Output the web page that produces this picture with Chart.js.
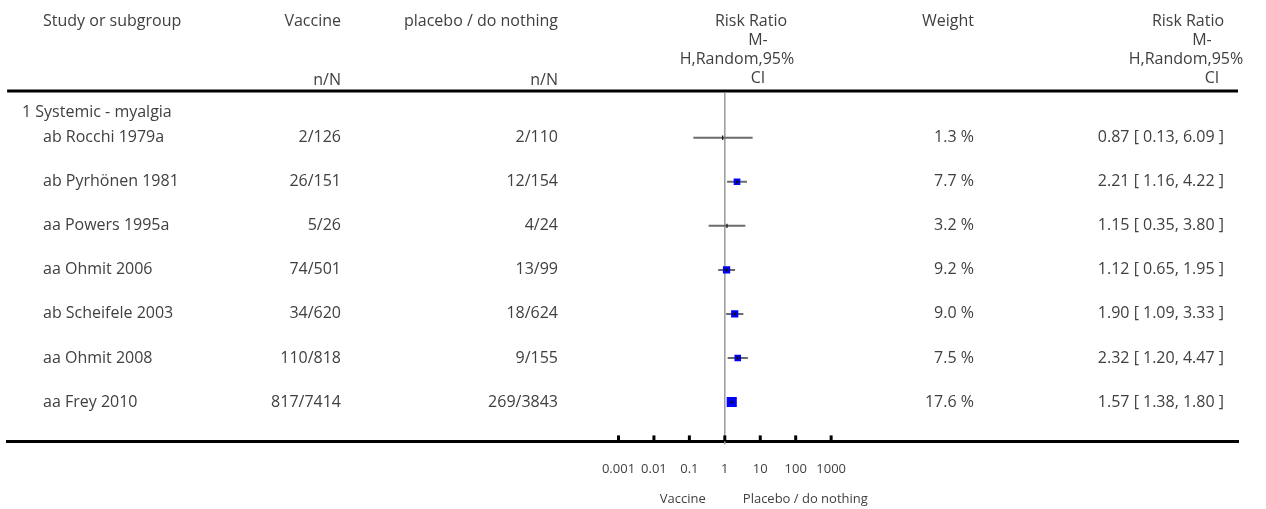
<!DOCTYPE html>
<html>
<head>
<meta charset="utf-8">
<script src="https://cdn.jsdelivr.net/npm/chart.js@4/dist/chart.umd.min.js"></script>
<style>
  body { margin: 0; background: #fff; }
  #wrap { width: 1266px; height: 509px; position: relative; }
</style>
</head>
<body>
<div id="wrap"><canvas id="forest"></canvas></div>
<script>
// data
var subgroup = "1 Systemic - myalgia";
var studies = ["ab Rocchi 1979a", "ab Pyrhönen 1981", "aa Powers 1995a", "aa Ohmit 2006",
  "ab Scheifele 2003", "aa Ohmit 2008", "aa Frey 2010"];
var vaccineN = ["2/126", "26/151", "5/26", "74/501", "34/620", "110/818", "817/7414"];
var placeboN = ["2/110", "12/154", "4/24", "13/99", "18/624", "9/155", "269/3843"];
var weights = [1.3, 7.7, 3.2, 9.2, 9.0, 7.5, 17.6];
var riskRatio = [0.87, 2.21, 1.15, 1.12, 1.90, 2.32, 1.57];
var lowerCI = [0.13, 1.16, 0.35, 0.65, 1.09, 1.20, 1.38];
var upperCI = [6.09, 4.22, 3.80, 1.95, 3.33, 4.47, 1.80];
var tickValues = [0.001, 0.01, 0.1, 1, 10, 100, 1000];

var FONT = "'Open Sans', sans-serif";
var TEXT = "#404040";

function boxRadius(w) {
  return w < 5 ? 0 : 1.7 * Math.sqrt(w);
}

// CI whiskers, one little line per study
var datasets = studies.map(function (s, i) {
  return {
    type: "line",
    data: [{ x: lowerCI[i], y: i }, { x: upperCI[i], y: i }],
    borderColor: "#6b6b6b",
    borderWidth: 2,
    pointRadius: 0,
    order: 3
  };
});

// weighted boxes
datasets.push({
  type: "scatter",
  data: riskRatio.map(function (v, i) { return { x: v, y: i }; }),
  pointStyle: "rect",
  pointRadius: function (c) { return boxRadius(weights[c.dataIndex]); },
  backgroundColor: "#0000ff",
  borderWidth: 0,
  order: 2
});

// point estimate marks
datasets.push({
  type: "scatter",
  data: riskRatio.map(function (v, i) { return { x: v, y: i }; }),
  pointStyle: function (c) { return weights[c.dataIndex] < 5 ? "line" : "cross"; },
  rotation: 90,
  pointRadius: function (c) { return weights[c.dataIndex] < 5 ? 2.2 : 1.8; },
  borderColor: "#111",
  borderWidth: 1.2,
  order: 1
});

function txt(ctx, s, x, y, align, size) {
  ctx.font = (size || 16) + "px " + FONT;
  ctx.textAlign = align || "left";
  ctx.textBaseline = "middle";
  ctx.fillStyle = TEXT;
  ctx.fillText(s, x, y);
}

var forestTable = {
  id: "forestTable",
  beforeDatasetsDraw: function (chart) {
    var ctx = chart.ctx, xs = chart.scales.x, area = chart.chartArea;
    var x1 = xs.getPixelForValue(1);
    ctx.save();
    ctx.strokeStyle = "#999";
    ctx.lineWidth = 1.5;
    ctx.beginPath();
    ctx.moveTo(x1, area.top + 2);
    ctx.lineTo(x1, area.bottom + 3);
    ctx.stroke();
    ctx.restore();
  },
  afterDraw: function (chart) {
    var ctx = chart.ctx, xs = chart.scales.x, ys = chart.scales.y, area = chart.chartArea;
    ctx.save();

    // header rule
    ctx.strokeStyle = "#000";
    ctx.lineWidth = 3;
    ctx.beginPath();
    ctx.moveTo(area.left, area.top);
    ctx.lineTo(area.right, area.top);
    ctx.stroke();

    // tick marks pointing up from the axis
    tickValues.forEach(function (v) {
      var px = xs.getPixelForValue(v);
      ctx.beginPath();
      ctx.moveTo(px, area.bottom - 6);
      ctx.lineTo(px, area.bottom);
      ctx.stroke();
    });

    // header
    txt(ctx, "Study or subgroup", 43, 21, "left");
    txt(ctx, "Vaccine", 341, 21, "right");
    txt(ctx, "n/N", 341, 80, "right");
    txt(ctx, "placebo / do nothing", 558, 21, "right");
    txt(ctx, "n/N", 558, 80, "right");
    txt(ctx, "Weight", 974, 21, "right");
    var rrHead = ["Risk Ratio", "M-", "H,Random,95%", "CI"];
    var headY = [21, 40, 59, 78];
    var midX = [751, 758, 737, 758];
    var rightX = [1188, 1202, 1186, 1212];
    rrHead.forEach(function (s, k) {
      txt(ctx, s, midX[k], headY[k], "center");
      txt(ctx, s, rightX[k], headY[k], "center");
    });

    // subgroup + rows
    txt(ctx, subgroup, 22, ys.getPixelForValue(-0.58), "left");
    studies.forEach(function (s, i) {
      var y = ys.getPixelForValue(i);
      txt(ctx, s, 43, y, "left");
      txt(ctx, vaccineN[i], 341, y, "right");
      txt(ctx, placeboN[i], 558, y, "right");
      txt(ctx, weights[i].toFixed(1) + " %", 974, y, "right");
      txt(ctx, riskRatio[i].toFixed(2) + " [ " + lowerCI[i].toFixed(2) + ", " + upperCI[i].toFixed(2) + " ]", 1224, y, "right");
    });

    // favours labels
    var x1 = xs.getPixelForValue(1);
    txt(ctx, "Vaccine", x1 - 19, 499, "right", 13);
    txt(ctx, "Placebo / do nothing", x1 + 18, 499, "left", 13);
    ctx.restore();
  }
};

new Chart(document.getElementById("forest"), {
  type: "scatter",
  data: { datasets: datasets },
  plugins: [forestTable],
  options: {
    responsive: true,
    maintainAspectRatio: false,
    animation: false,
    events: [],
    layout: { padding: { left: 5, right: 28, top: 91, bottom: 12 } },
    plugins: { legend: { display: false }, tooltip: { enabled: false } },
    scales: {
      x: {
        type: "logarithmic",
        bounds: "data",
        min: Math.pow(10, -20.25),
        max: Math.pow(10, 14.48),
        afterBuildTicks: function (scale) {
          scale.ticks = tickValues.map(function (v) { return { value: v }; });
        },
        grid: { display: false, drawTicks: false },
        border: { display: true, color: "#000", width: 3 },
        ticks: {
          autoSkip: false,
          maxRotation: 0,
          padding: 20,
          color: TEXT,
          font: { family: FONT, size: 13 },
          callback: function (v) { return String(v); }
        }
      },
      y: {
        type: "linear",
        display: false,
        reverse: true,
        min: -1.061,
        max: 6.894
      }
    }
  }
});
</script>
</body>
</html>
